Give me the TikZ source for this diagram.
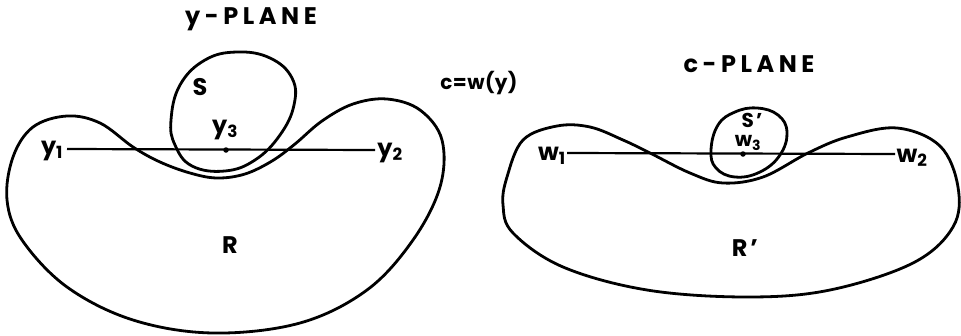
\documentclass[tikz,border=0pt]{standalone}
\usepackage{fontspec}
\setmainfont{Poppins}[LetterSpace=12]
\begin{document}
\begin{tikzpicture}[x=1pt,y=-1pt,
  curve/.style={line width=2.8pt,line join=round},
  seg/.style={line width=2.2pt},
  lbl/.style={inner sep=0pt,font=\fontsize{24}{26}\selectfont\bfseries},
  small/.style={inner sep=0pt,font=\fontsize{20}{22}\selectfont\bfseries},
  ttlstyle/.style={inner sep=0pt,font=\fontsize{24}{26}\selectfont\bfseries\addfontfeatures{LetterSpace=19}},
  mapstyle/.style={inner sep=0pt,font=\fontsize{20}{22}\selectfont\bfseries\addfontfeatures{LetterSpace=2}},
  dotmark/.style={circle,fill=black,inner sep=0pt,minimum size=5.5pt}]
\useasboundingbox (0,0) rectangle (961,335);
% ---- left figure ----
\node[ttlstyle] (ttl) at (251,19) {y-PLANE};
\node[mapstyle] (map) at (479,83) {c=w(y)};
\draw[curve] plot[smooth cycle,tension=0.6] coordinates {
 (13,157) (33,127) (67,116) (100,123) (133,147) (160,162) (190,173) (217,178)
 (245,174) (272,161) (295,144) (322,121) (353,104) (387,99) (420,110) (442,140)
 (440,187) (413,240) (367,290) (300,323) (213,333) (133,320) (67,287)
 (22,240) (7,200)};
\draw[curve] plot[smooth cycle,tension=0.7] coordinates {
 (171,120) (180,85) (205,60) (237,52) (270,58) (292,78) (294,105) (280,135)
 (255,160) (225,171) (192,166) (175,145)};
\coordinate (a1) at (67,149);
\coordinate (a2) at (375,150);
\draw[seg] (a1) -- (a2);
\node[dotmark] (d3) at (226,150) {};
\node[lbl] (y1) at (52,151) {y\textsubscript{1}};
\node[lbl] (y2) at (390,153) {y\textsubscript{2}};
\node[lbl] (y3) at (225,130) {y\textsubscript{3}};
\node[lbl] (S) at (200,87) {S};
\node[lbl] (R) at (230,245) {R};
% ---- right figure ----
\node[ttlstyle] (ttr) at (749,64) {c-PLANE};
\draw[curve] plot[smooth cycle,tension=0.6] coordinates {
 (523,140) (557,126) (590,127) (623,140) (650,153) (690,173) (723,183) (763,177)
 (808,153) (847,137) (897,128) (940,146) (958,187) (953,227) (913,263)
 (830,290) (747,297) (647,290) (563,267) (513,233) (503,205) (507,177)};
\draw[curve] plot[smooth cycle,tension=0.7] coordinates {
 (711,150) (718,125) (735,112) (757,108) (778,115) (787,132) (780,155) (760,172) (735,177) (716,168)};
\coordinate (b1) at (567,153);
\coordinate (b2) at (895,154);
\draw[seg] (b1) -- (b2);
\node[dotmark] (e3) at (743,154) {};
\node[lbl] (w1) at (552,156) {w\textsubscript{1}};
\node[lbl] (w2) at (912,158) {w\textsubscript{2}};
\node[small] (w3) at (748,143) {w\textsubscript{3}};
\node[small] (Sp) at (752,120) {S’};
\node[lbl] (Rp) at (745,248) {R’};
\end{tikzpicture}
\end{document}
